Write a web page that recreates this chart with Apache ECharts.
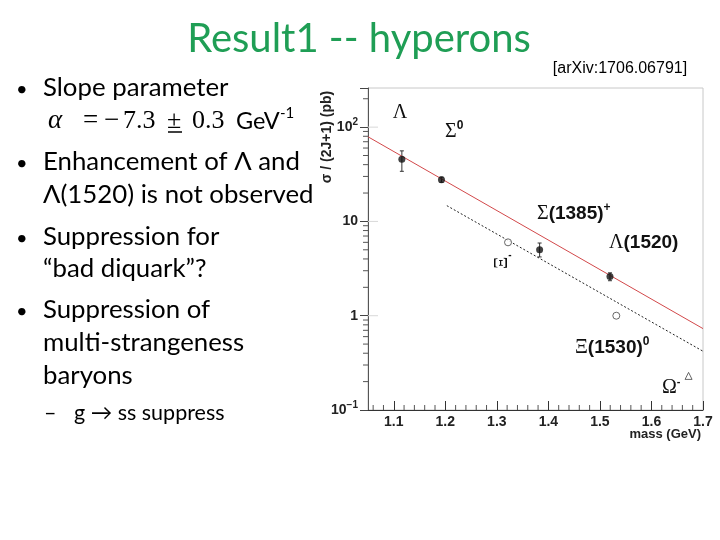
<!DOCTYPE html>
<html><head><meta charset="utf-8">
<script src="https://cdn.jsdelivr.net/npm/echarts@6/dist/echarts.min.js"></script>
<style>html,body{margin:0;padding:0;background:#fff}#c{width:720px;height:540px}</style>
</head><body><div id="c"></div>
<script>
// ---- data ----
const particleNames = ['Λ', 'Σ0', 'Σ(1385)+', 'Λ(1520)'];
const particleMass = [1.1157, 1.1926, 1.383, 1.5195];
const particleXsec = [45.7, 27.6, 5.0, 2.6];
const errLow = [34, 26, 4.2, 2.35];
const errHigh = [56, 29.5, 5.9, 2.85];
const openNames = ['Ξ-', 'Ξ(1530)0'];
const openMass = [1.3217, 1.5318];
const openXsec = [6.0, 1.0];
const omegaMass = [1.672];
const omegaXsec = [0.23];
const fitMass = [1.05, 1.7];
const fitXsec = [79, 0.73];
const dashMass = [1.203, 1.7];
const dashXsec = [14.7, 0.42];
const yMajorTicks = [1, 10, 100];
const yMinorTicks = [0.2,0.3,0.4,0.5,0.6,0.7,0.8,0.9,2,3,4,5,6,7,8,9,20,30,40,50,60,70,80,90,200];
const xMinorTicks = [1.06,1.08,1.12,1.14,1.16,1.18,1.22,1.24,1.26,1.28,1.32,1.34,1.36,1.38,1.42,1.44,1.46,1.48,1.52,1.54,1.56,1.58,1.62,1.64,1.66,1.68];
const X_MIN = 1.05, X_MAX = 1.7, Y_MIN = 0.1, Y_MAX = 260;

const chart = echarts.init(document.getElementById('c'));
const sans = '"Liberation Sans", Arial, sans-serif';
const slideFont = 'Lato, "Open Sans", sans-serif';
const serif = '"Liberation Serif", "DejaVu Serif", serif';
const BODY = 25.8;

function t(text, x, y, size, opts) {
  return {type:'text', style: Object.assign({text, x, y, font: size+'px '+slideFont, fill:'#000', verticalAlign:'middle', align:'left'}, opts||{})};
}
function m(text, x, y, font) {
  return {type:'text', style:{text, x, y, font, fill:'#000', verticalAlign:'middle', align:'left'}};
}
const graphics = [
  {type:'text', style:{text:'Result1 -- hyperons', x:359, y:39, font:'40px '+slideFont, fill:'#1f9e55', align:'center', verticalAlign:'middle'}},
  {type:'text', style:{text:'[arXiv:1706.06791]', x:620, y:69, font:'16px '+sans, fill:'#000', align:'center', verticalAlign:'middle'}},
  t('•', 16, 90, 20), t('Slope parameter', 43, 88, BODY),
  m('α', 48, 121, 'italic 27px '+serif),
  m('=', 83, 121, '27px '+serif),
  m('−', 104, 121, '27px '+serif),
  m('7.3', 123, 121, '26px '+serif),
  m('±', 167, 121, '26px '+serif),
  {type:'line', shape:{x1:168, y1:132, x2:182, y2:132}, style:{stroke:'#000', lineWidth:1.5}},
  m('0.3', 192, 121, '26px '+serif),
  m('GeV', 236, 121, '23.5px '+slideFont),
  m('-1', 280, 113, '15px '+slideFont),
  t('•', 16, 164, 20), t('Enhancement of Λ and', 43, 162, BODY),
  t('Λ(1520) is not observed', 43, 195, BODY),
  t('•', 16, 239, 20), t('Suppression for', 43, 237, BODY),
  t('“bad diquark”?', 43, 269, BODY),
  t('•', 16, 312, 20), t('Suppression of', 43, 310, BODY),
  t('multi-strangeness', 43, 343, BODY),
  t('baryons', 43, 376, BODY),
  t('–', 44, 413, 21.5), t('g → ss suppress', 74, 413, 21.5),
  // axis titles
  {type:'text', rotation:Math.PI/2, x:327, y:137, style:{text:'σ / (2J+1) (pb)', x:0, y:0, font:'bold 14px '+sans, fill:'#222', align:'center', verticalAlign:'middle'}},
  {type:'text', style:{text:'mass (GeV)', x:701, y:434, font:'bold 13px '+sans, fill:'#222', align:'right', verticalAlign:'middle'}},
  // particle labels
  {type:'text', style:{text:'Λ', x:400, y:113, font:'20px '+serif, fill:'#111', align:'center', verticalAlign:'middle'}},
  {type:'text', style:{text:'{g|Σ}{s|0}', x:445, y:132, verticalAlign:'middle', rich:{g:{font:'20px '+serif, fill:'#111'}, s:{font:'bold 12px '+sans, fill:'#111', padding:[0,0,12,0]}}}},
  {type:'text', style:{text:'{g|Σ}{n|(1385)}{s|+}', x:537, y:214, verticalAlign:'middle', rich:{g:{font:'20px '+serif, fill:'#111'}, n:{font:'bold 19px '+sans, fill:'#111'}, s:{font:'bold 12px '+sans, fill:'#111', padding:[0,0,12,0]}}}},
  {type:'text', style:{text:'{g|Λ}{n|(1520)}', x:609, y:243, verticalAlign:'middle', rich:{g:{font:'20px '+serif, fill:'#111'}, n:{font:'bold 19px '+sans, fill:'#111'}}}},
  {type:'text', style:{text:'{g|Ξ}{n|(1530)}{s|0}', x:575, y:348, verticalAlign:'middle', rich:{g:{font:'20px '+serif, fill:'#111'}, n:{font:'bold 19px '+sans, fill:'#111'}, s:{font:'bold 12px '+sans, fill:'#111', padding:[0,0,12,0]}}}},
  {type:'text', style:{text:'{g|Ω}{s|-}', x:662, y:388, verticalAlign:'middle', rich:{g:{font:'20px '+serif, fill:'#111'}, s:{font:'bold 11px '+sans, fill:'#111', padding:[0,0,12,0]}}}},
  {type:'text', rotation:Math.PI/2, x:502, y:263, style:{text:'Ξ', x:0, y:0, font:'19px '+serif, fill:'#111', align:'center', verticalAlign:'middle'}},
  {type:'text', style:{text:'-', x:510, y:255, font:'bold 10px '+sans, fill:'#111', align:'center', verticalAlign:'middle'}}
];

const option = {
  animation: false,
  grid: {left:368, right:17, top:88, bottom:130, show:true, borderColor:'#c8c8c8', borderWidth:1},
  xAxis: {type:'value', min:X_MIN, max:X_MAX, splitLine:{show:false},
    axisLine:{lineStyle:{color:'#333', width:1}},
    axisTick:{inside:true, length:9, lineStyle:{color:'#333'}},
    axisLabel:{showMinLabel:false, margin:5, color:'#222', fontFamily:sans, fontWeight:'bold', fontSize:14,
      formatter: v => v.toFixed(1)}},
  yAxis: {type:'log', logBase:10, min:Y_MIN, max:Y_MAX, splitLine:{show:false},
    axisLine:{show:true, lineStyle:{color:'#555', width:1}},
    axisTick:{inside:false, length:8, lineStyle:{color:'#444'}},
    axisLabel:{margin:10, color:'#222', fontFamily:sans, fontWeight:'bold', fontSize:14,
      formatter: v => {
        if (Math.abs(v-100) < 1e-6) return '10{s|2}';
        if (Math.abs(v-10) < 1e-6) return '10';
        if (Math.abs(v-1) < 1e-6) return '1';
        if (Math.abs(v-0.1) < 1e-9) return '10{s|−1}';
        return '';
      },
      rich:{s:{fontSize:10, fontWeight:'bold', fontFamily:sans, color:'#222', padding:[0,0,9,0]}}}},
  graphic: graphics,
  series: [
    {type:'custom', silent:true, clip:false, z:5,
      data: xMinorTicks.map(v => [v, 0]).concat(yMinorTicks.map(v => [v, 1]), yMajorTicks.map(v => [v, 2])),
      renderItem: (params, api) => {
        const v = api.value(0), k = api.value(1);
        let p, q, c = '#555';
        if (k === 0) { p = api.coord([v, Y_MIN]); q = [p[0], p[1]-5]; }
        else if (k === 1) { p = api.coord([X_MIN, v]); q = [p[0]-5, p[1]]; }
        else { p = api.coord([X_MIN, v]); q = [p[0]+10, p[1]]; c = '#d8d8d8'; }
        return {type:'line', shape:{x1:p[0], y1:p[1], x2:q[0], y2:q[1]}, style:{stroke:c, lineWidth:1}};
      }},
    {type:'line', data: fitMass.map((m,i)=>[m, fitXsec[i]]), symbol:'none', lineStyle:{color:'#d2484a', width:1}, silent:true},
    {type:'line', data: dashMass.map((m,i)=>[m, dashXsec[i]]), symbol:'none', lineStyle:{color:'#222', width:1, type:[2,2]}, silent:true},
    {type:'custom', silent:true, z:3,
      data: particleMass.map((m,i)=>[m, errLow[i], errHigh[i]]),
      renderItem: (params, api) => {
        const a = api.coord([api.value(0), api.value(1)]);
        const b = api.coord([api.value(0), api.value(2)]);
        return {type:'group', children:[
          {type:'line', shape:{x1:a[0], y1:a[1], x2:b[0], y2:b[1]}, style:{stroke:'#333', lineWidth:1}},
          {type:'line', shape:{x1:a[0]-2, y1:a[1], x2:a[0]+2, y2:a[1]}, style:{stroke:'#333', lineWidth:1}},
          {type:'line', shape:{x1:b[0]-2, y1:b[1], x2:b[0]+2, y2:b[1]}, style:{stroke:'#333', lineWidth:1}}
        ]};
      }},
    {type:'scatter', data: particleMass.map((m,i)=>[m, particleXsec[i]]), symbol:'circle', symbolSize:7, itemStyle:{color:'#111'}, z:4},
    {type:'scatter', data: openMass.map((m,i)=>[m, openXsec[i]]), symbol:'circle', symbolSize:7, itemStyle:{color:'#fff', borderColor:'#444', borderWidth:1}, z:4},
    {type:'scatter', data: omegaMass.map((m,i)=>[m, omegaXsec[i]]), symbol:'triangle', symbolSize:7, itemStyle:{color:'#fff', borderColor:'#444', borderWidth:1}, z:4}
  ]
};
chart.setOption(option);
</script>
</body></html>
